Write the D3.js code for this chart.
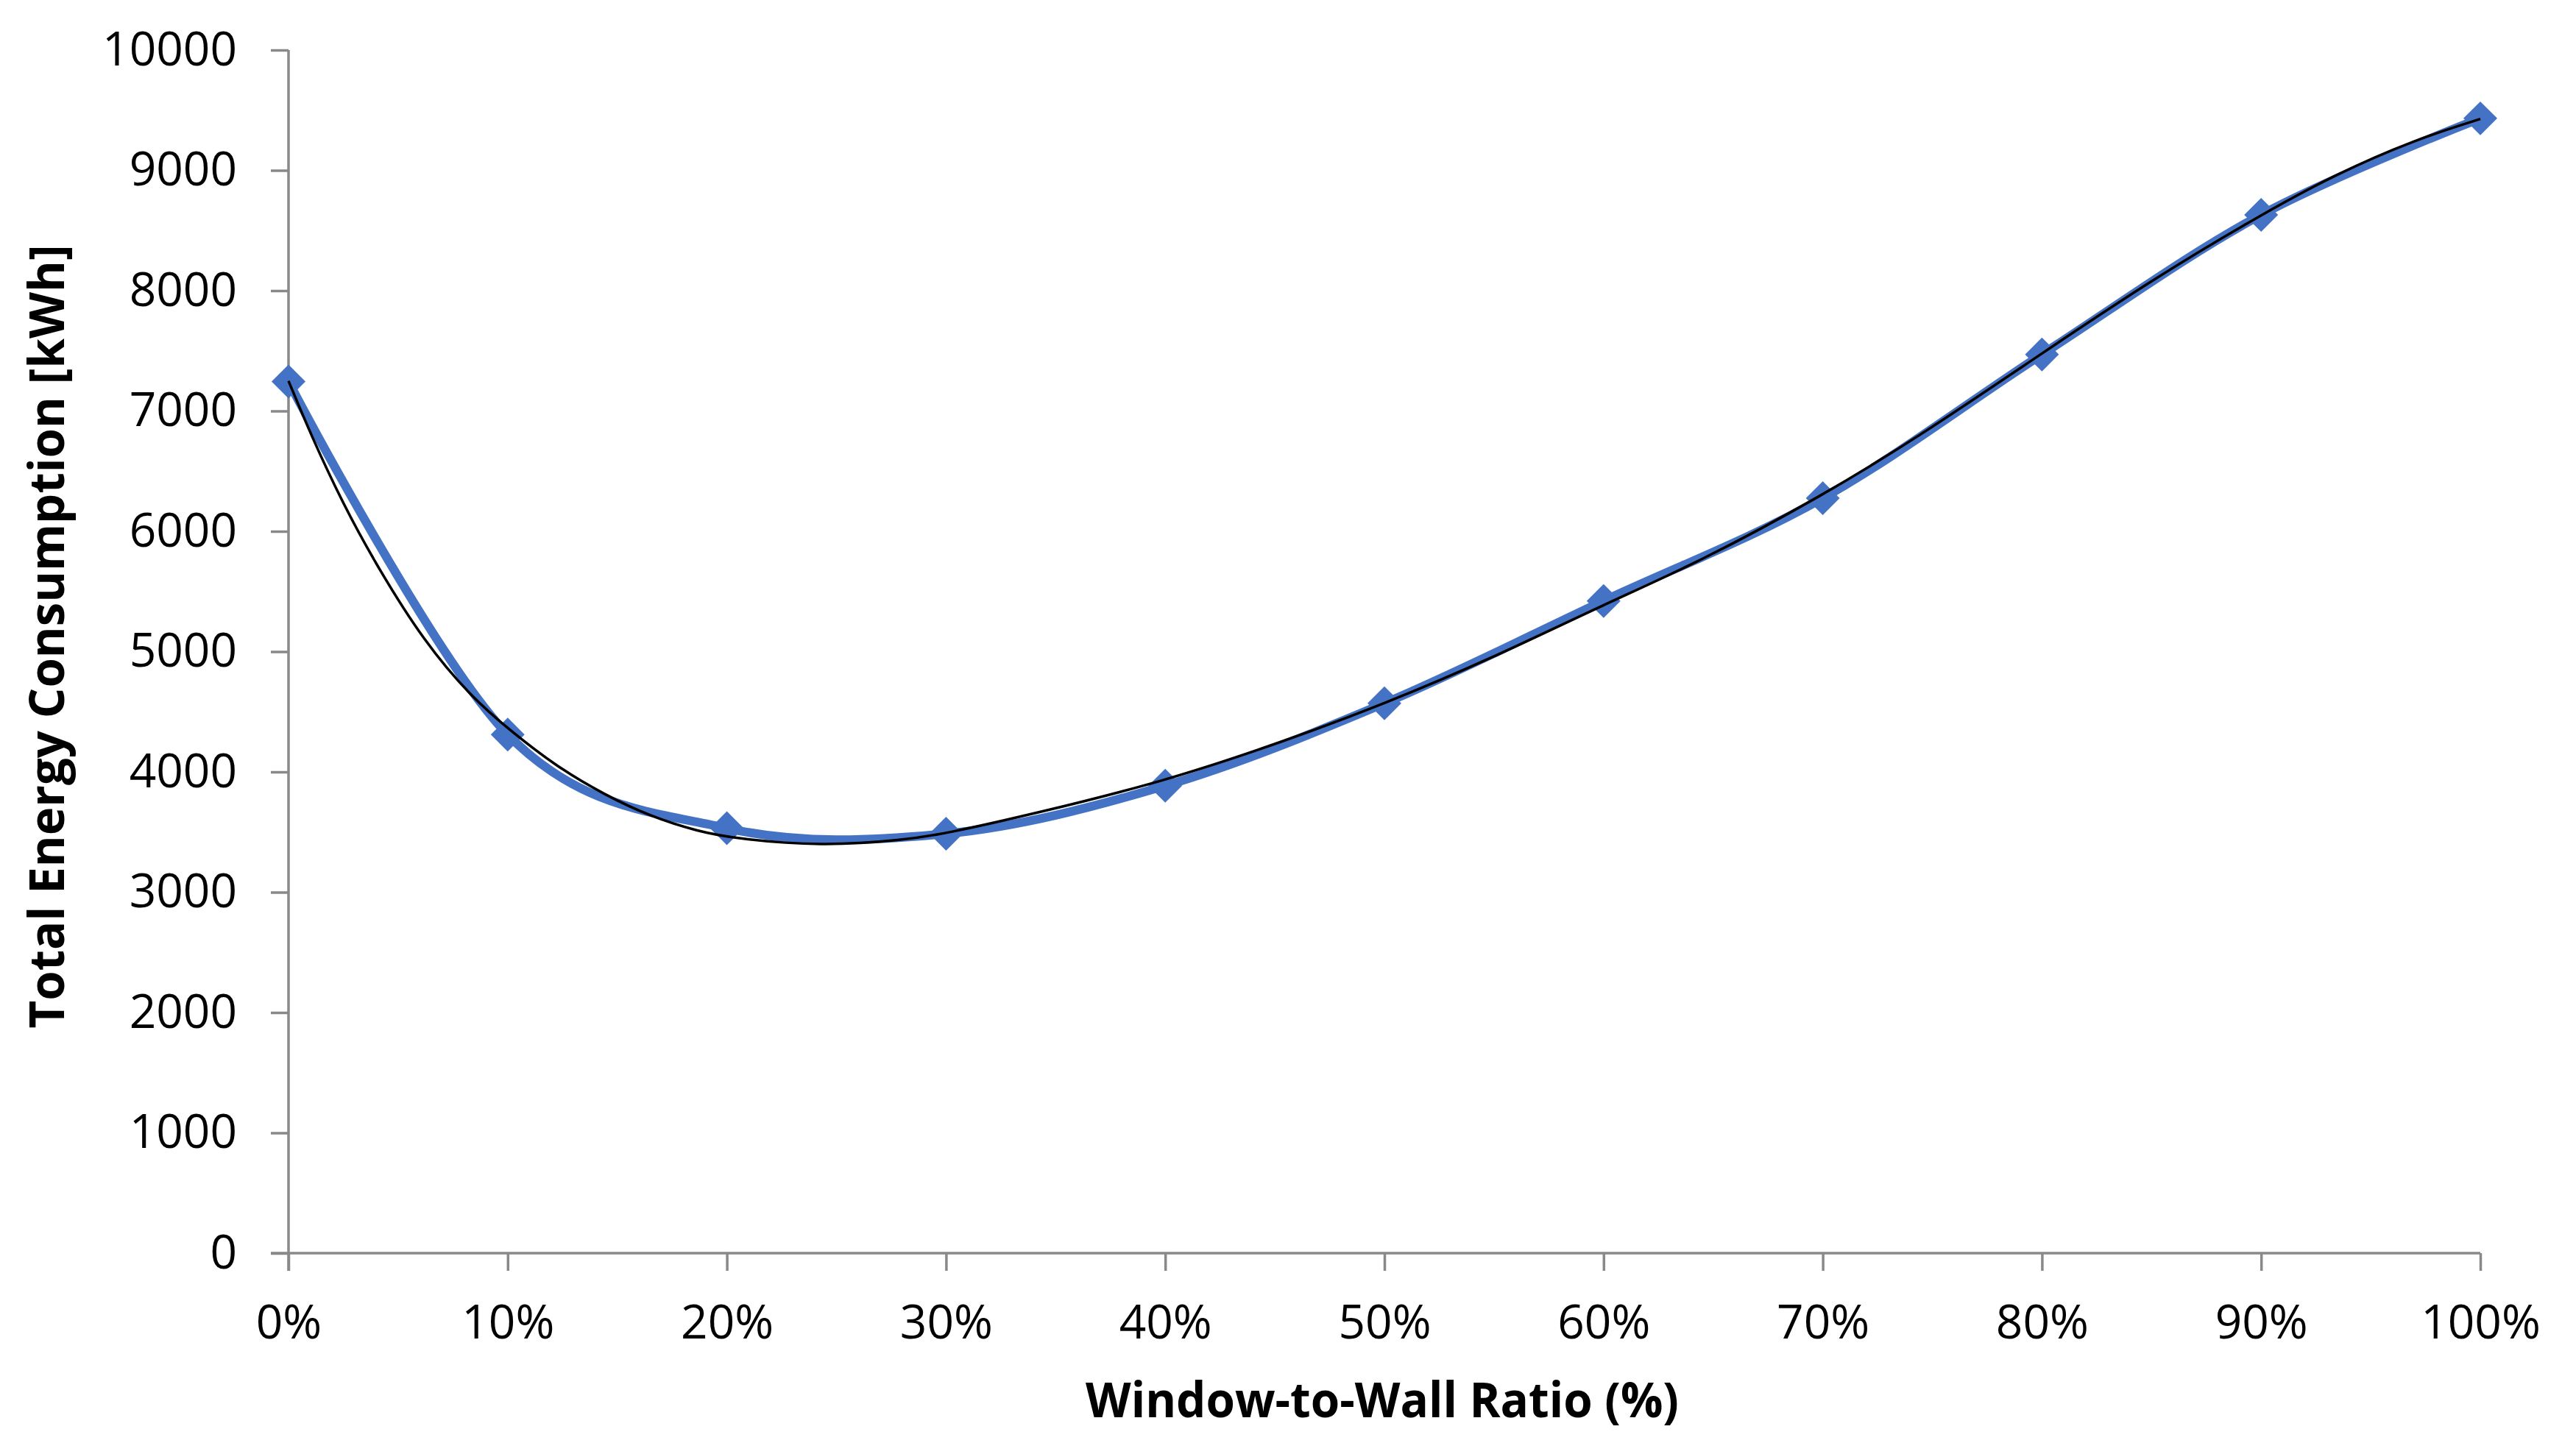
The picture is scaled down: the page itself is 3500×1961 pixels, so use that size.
<!DOCTYPE html>
<html>
<head>
<meta charset="utf-8">
<script src="https://cdn.jsdelivr.net/npm/d3@7"></script>
<style>
  html, body { margin: 0; padding: 0; background: #ffffff; }
  svg { display: block; }
</style>
</head>
<body>
<script>
// ---- data ----
const ratios = [0, 10, 20, 30, 40, 50, 60, 70, 80, 90, 100];
const energy = [7245, 4310, 3532, 3486, 3885, 4570, 5421, 6275, 7470, 8630, 9432];
// trendline
const trendX = [0, 1, 2.5, 4.1, 6.2, 8.3, 10.2, 12.3, 14.4, 16.5, 18.7, 20.4, 24.3, 28.1, 30, 33.9, 40, 45.5, 50, 55, 60, 64.4, 70, 74.5, 80, 85.2, 90, 93.4, 97, 100];
const trendY = [7250, 6810, 6221, 5690, 5080, 4630, 4330, 4036, 3812, 3630, 3504, 3445, 3382, 3433, 3488, 3647, 3922, 4259, 4565, 4952, 5391, 5747, 6298, 6800, 7480, 8112, 8632, 8968, 9254, 9427];
const yTicks = [0, 1000, 2000, 3000, 4000, 5000, 6000, 7000, 8000, 9000, 10000];
const xTicks = [0, 10, 20, 30, 40, 50, 60, 70, 80, 90, 100];
const xTitle = "Window-to-Wall Ratio (%)";
const yTitle = "Total Energy Consumption [kWh]";

(function () {
const W = 3500, H = 1961;
const mLeft = 392, mRight = 3370, mTop = 68, mBottom = 1703;
const FONT = "'Open Sans', 'Noto Sans', sans-serif";
const AXIS = "#898989";
const BLUE = "#4472C4";

const svg = d3.select("body").append("svg")
  .attr("width", W).attr("height", H)
  .attr("viewBox", `0 0 ${W} ${H}`);
svg.append("rect").attr("width", W).attr("height", H).attr("fill", "#fff");

const x = d3.scaleLinear().domain([0, 100]).range([mLeft, mRight]);
const y = d3.scaleLinear().domain([0, 10000]).range([mBottom, mTop]);

// axes
const yAxis = svg.append("g").attr("transform", `translate(${mLeft},0)`)
  .call(d3.axisLeft(y).tickValues(yTicks).tickSize(24).tickSizeOuter(0).tickPadding(46).tickFormat(d3.format("d")));
const xAxis = svg.append("g").attr("transform", `translate(0,${mBottom})`)
  .call(d3.axisBottom(x).tickValues(xTicks).tickSize(24).tickSizeOuter(0).tickPadding(47).tickFormat(d => d + "%"));

[yAxis, xAxis].forEach(g => {
  g.select(".domain").attr("stroke", AXIS).attr("stroke-width", 3.5);
  g.selectAll(".tick line").attr("stroke", AXIS).attr("stroke-width", 3.5);
  g.selectAll(".tick text").attr("fill", "#000").style("font-family", FONT).style("font-size", "64px");
});
xAxis.select(".domain").attr("d", `M${mLeft - 24},0H${mRight}`);
yAxis.select(".domain").attr("d", `M0,${mTop}V${mBottom + 24}`);

// blue smoothed series
const line = d3.line().x((d, i) => x(ratios[i])).y(d => y(d)).curve(d3.curveCardinal.tension(0));
svg.append("path").datum(energy)
  .attr("d", line)
  .attr("fill", "none").attr("stroke", BLUE).attr("stroke-width", 12)
  .attr("stroke-linejoin", "round").attr("stroke-linecap", "round");

// diamond markers
const diamond = d3.symbol().type(d3.symbolSquare).size(32.5 * 32.5);
svg.append("g").selectAll("path").data(energy).join("path")
  .attr("d", diamond)
  .attr("transform", (d, i) => `translate(${x(ratios[i])},${y(d)}) rotate(45)`)
  .attr("fill", BLUE);

// black trendline
const tline = d3.line().x((d, i) => x(trendX[i])).y(d => y(d)).curve(d3.curveBasis);
svg.append("path").datum(trendY)
  .attr("d", tline)
  .attr("fill", "none").attr("stroke", "#000").attr("stroke-width", 3.5)
  .attr("stroke-linejoin", "round");

// titles
svg.append("text")
  .attr("x", 1878).attr("y", 1926)
  .attr("text-anchor", "middle")
  .attr("textLength", 806).attr("lengthAdjust", "spacingAndGlyphs")
  .style("font-family", FONT).style("font-weight", "bold").style("font-size", "67px")
  .text(xTitle);

svg.append("text")
  .attr("transform", `translate(87,865) rotate(-90)`)
  .attr("text-anchor", "middle")
  .attr("textLength", 1065).attr("lengthAdjust", "spacingAndGlyphs")
  .style("font-family", FONT).style("font-weight", "bold").style("font-size", "67px")
  .text(yTitle);
})();
</script>
</body>
</html>
